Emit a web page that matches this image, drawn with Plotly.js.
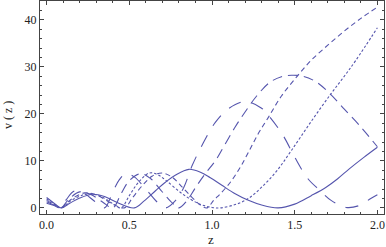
<!DOCTYPE html>
<html>
<head>
<meta charset="utf-8">
<script src="https://cdn.plot.ly/plotly-3.0.1.min.js"></script>
<style>html,body{margin:0;padding:0;background:#fff;}#chart{width:386px;height:247px;}</style>
</head>
<body>
<div id="chart"></div>
<script>
// Curve A (solid)
const zA = [0, 0.045, 0.088, 0.14, 0.2, 0.28, 0.35, 0.43, 0.53, 0.59, 0.66, 0.72, 0.78, 0.86, 0.93, 0.99, 1.06, 1.14, 1.22, 1.3, 1.4, 1.5, 1.6, 1.69, 1.76, 1.83, 1.92, 2.0];
const vA = [2.2, 1.0, 0, 1.0, 2.1, 2.9, 2.4, 1.1, 0, 1.5, 3.7, 5.5, 7.0, 8.2, 7.6, 6.4, 4.8, 3.0, 1.6, 0.6, 0, 0.8, 2.6, 4.4, 6.2, 8.3, 10.8, 12.9];
// Curve B (short dashes)
const zB = [0, 0.045, 0.088, 0.15, 0.25, 0.33, 0.4, 0.45, 0.5, 0.55, 0.62, 0.67, 0.72, 0.82, 0.92, 1.0, 1.05, 1.14, 1.22, 1.3, 1.39, 1.48, 1.6, 1.72, 1.8, 1.87, 2.0];
const vB = [1.9, 0.9, 0, 1.6, 3.0, 2.4, 0.9, 0, 2.6, 5.2, 7.4, 7.1, 5.9, 3.0, 0.9, 0.1, 0, 0.7, 2.0, 4.4, 7.8, 12.2, 18.4, 24.3, 28.0, 31.4, 38.3];
// Curve C (medium dashes)
const zC = [0, 0.045, 0.088, 0.14, 0.23, 0.31, 0.39, 0.47, 0.52, 0.58, 0.64, 0.7, 0.76, 0.82, 0.88, 0.93, 0.97, 1.01, 1.05, 1.11, 1.17, 1.22, 1.28, 1.34, 1.42, 1.52, 1.6, 1.7, 1.8, 1.9, 2.0];
const vC = [1.6, 0.75, 0, 1.6, 3.2, 2.6, 1.0, 0, 2.2, 4.8, 6.8, 7.4, 6.5, 4.4, 2.2, 0.6, 0, 1.6, 3.0, 5.4, 8.6, 11.8, 15.8, 19.2, 23.8, 28.2, 31.4, 34.6, 37.6, 40.3, 42.7];
// Curve D (long dashes)
const zD = [0, 0.045, 0.088, 0.13, 0.2, 0.27, 0.34, 0.4, 0.45, 0.5, 0.57, 0.63, 0.69, 0.75, 0.8, 0.85, 0.9, 0.96, 1.02, 1.08, 1.14, 1.2, 1.27, 1.35, 1.42, 1.48, 1.55, 1.63, 1.71, 1.8, 1.9, 2.0];
const vD = [1.3, 0.6, 0, 1.7, 3.4, 2.8, 1.2, 0, 3.0, 5.8, 7.3, 6.2, 3.8, 1.4, 0, 1.6, 4.3, 7.3, 10.0, 13.6, 17.2, 20.4, 23.8, 26.7, 27.9, 28.2, 28.0, 26.8, 24.4, 21.0, 17.2, 13.0];
// Curve E (longest dashes)
const zE = [0, 0.045, 0.088, 0.12, 0.17, 0.23, 0.29, 0.35, 0.4, 0.44, 0.48, 0.53, 0.6, 0.67, 0.72, 0.78, 0.83, 0.88, 0.95, 1.02, 1.1, 1.2, 1.3, 1.35, 1.43, 1.5, 1.58, 1.65, 1.72, 1.81, 1.89, 1.96, 2.0];
const vE = [1.0, 0.5, 0, 1.8, 3.6, 3.0, 1.4, 0, 3.4, 6.0, 7.3, 6.6, 4.0, 1.2, 0, 1.6, 4.4, 9.0, 14.0, 18.2, 21.1, 22.6, 21.2, 19.3, 15.4, 10.8, 6.2, 3.8, 1.6, 0.1, 0.5, 2.0, 2.8];

const xTickVals = [0, 0.5, 1.0, 1.5, 2.0];
const xTickText = ['0.0', '0.5', '1.0', '1.5', '2.0'];
const yTickVals = [0, 10, 20, 30, 40];
const yTickText = ['0', '10', '20', '30', '40'];

const col = '#5555ad';
function tr(x, y, dash) {
  return {x: x, y: y, type: 'scatter', mode: 'lines',
    line: {color: col, width: 1.1, dash: dash, shape: 'spline', smoothing: 1},
    hoverinfo: 'skip'};
}
const data = [
  tr(zA, vA, 'solid'),
  tr(zB, vB, '2.5px,2px'),
  tr(zC, vC, '5px,3.5px'),
  tr(zD, vD, '10px,6px'),
  tr(zE, vE, '13px,11px')
];
const fam = "'Liberation Serif', 'DejaVu Serif', serif";
const fnt = {family: fam, size: 12, color: '#222'};
const axBase = {
  showgrid: false, zeroline: false, showline: true, linecolor: '#444', linewidth: 1,
  mirror: 'allticks', ticks: 'inside', ticklen: 4, tickwidth: 1, tickcolor: '#444',
  tickfont: fnt
};
const layout = {
  width: 386, height: 247,
  margin: {l: 40, r: 2, t: 1, b: 33},
  paper_bgcolor: '#fff', plot_bgcolor: '#fff',
  showlegend: false,
  xaxis: Object.assign({}, axBase, {
    range: [-0.04, 2.04], tickmode: 'array', tickvals: xTickVals, ticktext: xTickText,
    minor: {dtick: 0.1, tick0: 0, ticks: 'inside', ticklen: 2, tickcolor: '#444'}
  }),
  yaxis: Object.assign({}, axBase, {
    range: [-1.3, 44], tickmode: 'array', tickvals: yTickVals, ticktext: yTickText,
    minor: {dtick: 2, tick0: 0, ticks: 'inside', ticklen: 2, tickcolor: '#444'}
  }),
  annotations: [
    {text: 'v ( z )', xref: 'paper', yref: 'paper', x: -0.093, y: 0.465, textangle: -90,
     showarrow: false, font: {family: fam, size: 12, color: '#222'}, xanchor: 'center', yanchor: 'middle'},
    {text: 'z', xref: 'paper', yref: 'paper', x: 0.497, y: -0.122, showarrow: false,
     font: {family: fam, size: 13, color: '#222'}, xanchor: 'center', yanchor: 'middle'}
  ]
};
Plotly.newPlot('chart', data, layout, {staticPlot: true, displayModeBar: false});
</script>
</body>
</html>
